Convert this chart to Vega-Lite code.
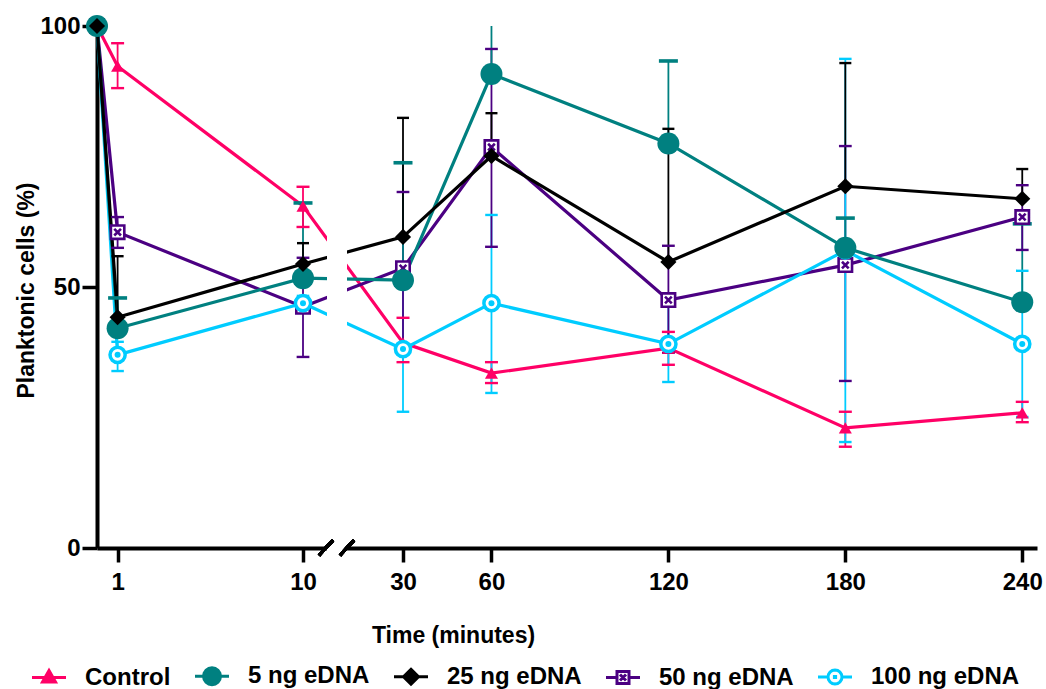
{
  "$schema": "https://vega.github.io/schema/vega-lite/v6.json",
  "width": 940,
  "height": 522,
  "autosize": {"type": "none"},
  "padding": {"left": 97, "top": 26, "right": 9, "bottom": 141},
  "background": "white",
  "config": {
    "view": {"stroke": null},
    "font": "Liberation Sans",
    "axis": {"grid": false, "domainColor": "black", "domainWidth": 4, "tickColor": "black", "tickWidth": 3.5,
      "labelFont": "Liberation Sans", "labelFontWeight": "bold", "labelFontSize": 24, "labelColor": "black",
      "titleFont": "Liberation Sans", "titleFontWeight": "bold", "titleFontSize": 23, "titleColor": "black"},
    "axisX": {"tickSize": 14, "labelPadding": 8, "titleX": 356, "titleY": 76, "titleBaseline": "top", "titleAlign": "center"},
    "axisY": {"tickSize": 15, "labelPadding": 2, "titleX": -59, "titleY": 264, "titleAngle": 270, "titleBaseline": "bottom", "titleAlign": "center"},
    "legend": {"orient": "none", "legendX": -60, "legendY": 638, "direction": "horizontal", "columns": 5,
      "symbolSize": 400, "symbolStrokeWidth": 3, "labelOffset": 24, "columnPadding": 18, "padding": 0,
      "labelFont": "Liberation Sans", "labelFontWeight": "bold", "labelFontSize": 24, "labelColor": "black", "labelLimit": 300}
  },
  "datasets": {
    "d": [
      {"series": "Control", "t": 0, "v": 100, "lo": null, "hi": null},
      {"series": "Control", "t": 1, "v": 92.3, "lo": 88.1, "hi": 96.7},
      {"series": "Control", "t": 10, "v": 65.5, "lo": 61.5, "hi": 69.2},
      {"series": "Control", "t": 30, "v": 39.3, "lo": 35.6, "hi": 44.1},
      {"series": "Control", "t": 60, "v": 33.5, "lo": 31.6, "hi": 35.6},
      {"series": "Control", "t": 120, "v": 38.3, "lo": 35.1, "hi": 41.4},
      {"series": "Control", "t": 180, "v": 23.0, "lo": 19.4, "hi": 26.1},
      {"series": "Control", "t": 240, "v": 25.9, "lo": 24.1, "hi": 28.0},
      {"series": "50 ng eDNA", "t": 0, "v": 100, "lo": null, "hi": null},
      {"series": "50 ng eDNA", "t": 1, "v": 60.5, "lo": 57.5, "hi": 63.4},
      {"series": "50 ng eDNA", "t": 10, "v": 46.2, "lo": 36.6, "hi": 55.6},
      {"series": "50 ng eDNA", "t": 30, "v": 53.6, "lo": 39.0, "hi": 68.2},
      {"series": "50 ng eDNA", "t": 60, "v": 76.8, "lo": 57.7, "hi": 95.6},
      {"series": "50 ng eDNA", "t": 120, "v": 47.5, "lo": 37.4, "hi": 57.9},
      {"series": "50 ng eDNA", "t": 180, "v": 54.2, "lo": 32.0, "hi": 77.0},
      {"series": "50 ng eDNA", "t": 240, "v": 63.4, "lo": 57.1, "hi": 69.5},
      {"series": "100 ng eDNA", "t": 0, "v": 100, "lo": null, "hi": null},
      {"series": "100 ng eDNA", "t": 1, "v": 37.0, "lo": 33.9, "hi": 39.5},
      {"series": "100 ng eDNA", "t": 10, "v": 46.9, "lo": 45.5, "hi": 48.3},
      {"series": "100 ng eDNA", "t": 30, "v": 38.1, "lo": 26.1, "hi": 50.1},
      {"series": "100 ng eDNA", "t": 60, "v": 46.9, "lo": 29.7, "hi": 63.8},
      {"series": "100 ng eDNA", "t": 120, "v": 39.1, "lo": 31.8, "hi": 46.4},
      {"series": "100 ng eDNA", "t": 180, "v": 57.0, "lo": 20.3, "hi": 93.7},
      {"series": "100 ng eDNA", "t": 240, "v": 39.1, "lo": 25.1, "hi": 53.1},
      {"series": "5 ng eDNA", "t": 0, "v": 100, "lo": null, "hi": null},
      {"series": "5 ng eDNA", "t": 1, "v": 42.1, "lo": null, "hi": 47.9},
      {"series": "5 ng eDNA", "t": 10, "v": 51.7, "lo": null, "hi": 66.1},
      {"series": "5 ng eDNA", "t": 30, "v": 51.3, "lo": null, "hi": 73.8},
      {"series": "5 ng eDNA", "t": 60, "v": 90.8, "lo": null, "hi": 100},
      {"series": "5 ng eDNA", "t": 120, "v": 77.5, "lo": null, "hi": 93.3},
      {"series": "5 ng eDNA", "t": 180, "v": 57.5, "lo": null, "hi": 63.2},
      {"series": "5 ng eDNA", "t": 240, "v": 47.1, "lo": null, "hi": 62.1},
      {"series": "25 ng eDNA", "t": 0, "v": 100, "lo": null, "hi": null},
      {"series": "25 ng eDNA", "t": 1, "v": 44.2, "lo": null, "hi": 55.9},
      {"series": "25 ng eDNA", "t": 10, "v": 54.4, "lo": null, "hi": 58.4},
      {"series": "25 ng eDNA", "t": 30, "v": 59.6, "lo": null, "hi": 82.4},
      {"series": "25 ng eDNA", "t": 60, "v": 75.1, "lo": null, "hi": 83.3},
      {"series": "25 ng eDNA", "t": 120, "v": 54.8, "lo": null, "hi": 80.3},
      {"series": "25 ng eDNA", "t": 180, "v": 69.3, "lo": null, "hi": 92.9},
      {"series": "25 ng eDNA", "t": 240, "v": 66.9, "lo": null, "hi": 72.6}
    ]
  },
  "data": {"name": "d"},
  "layer": [
    {
      "mark": {"type": "line", "strokeWidth": 3.2},
      "encoding": {
        "x": {"field": "t", "type": "quantitative", "title": "Time (minutes)",
          "scale": {"type": "linear", "domain": [0, 10, 30, 245], "range": [0, 206, 306, 940], "nice": false, "zero": false},
          "axis": {"values": [1, 10, 30, 60, 120, 180, 240]}},
        "y": {"field": "v", "type": "quantitative", "title": "Planktonic cells (%)",
          "scale": {"domain": [0, 100], "nice": false, "zero": true},
          "axis": {"values": [0, 50, 100]}},
        "color": {"field": "series", "type": "nominal",
          "scale": {"domain": ["Control", "50 ng eDNA", "100 ng eDNA", "5 ng eDNA", "25 ng eDNA"], "range": ["#FF0066", "#4B0082", "#00CCFF", "#008080", "#000000"]},
          "legend": null},
        "detail": {"field": "series"}
      }
    },
    {
      "transform": [{"filter": "isValid(datum.hi)"}],
      "mark": {"type": "rule"},
      "encoding": {
        "x": {"field": "t", "type": "quantitative", "title": "Time (minutes)", "scale": {"type": "linear", "domain": [0, 10, 30, 245], "range": [0, 206, 306, 940], "nice": false, "zero": false}, "axis": {"values": [1, 10, 30, 60, 120, 180, 240]}},
        "y": {"field": "v", "type": "quantitative", "title": "Planktonic cells (%)", "scale": {"domain": [0, 100], "nice": false, "zero": true}, "axis": {"values": [0, 50, 100]}},
        "y2": {"field": "hi"},
        "color": {"field": "series", "type": "nominal",
          "scale": {"domain": ["Control", "50 ng eDNA", "100 ng eDNA", "5 ng eDNA", "25 ng eDNA"], "range": ["#FF0066", "#4B0082", "#00CCFF", "#008080", "#000000"]},
          "legend": null},
        "strokeWidth": {"field": "series", "type": "nominal",
          "scale": {"domain": ["Control", "50 ng eDNA", "100 ng eDNA", "5 ng eDNA", "25 ng eDNA"], "range": [1.8, 1.8, 2, 3.5, 1.8]},
          "legend": null}
      }
    },
    {
      "transform": [{"filter": "isValid(datum.lo)"}],
      "mark": {"type": "rule"},
      "encoding": {
        "x": {"field": "t", "type": "quantitative", "title": "Time (minutes)", "scale": {"type": "linear", "domain": [0, 10, 30, 245], "range": [0, 206, 306, 940], "nice": false, "zero": false}, "axis": {"values": [1, 10, 30, 60, 120, 180, 240]}},
        "y": {"field": "lo", "type": "quantitative", "title": "Planktonic cells (%)", "scale": {"domain": [0, 100], "nice": false, "zero": true}, "axis": {"values": [0, 50, 100]}},
        "y2": {"field": "v"},
        "color": {"field": "series", "type": "nominal",
          "scale": {"domain": ["Control", "50 ng eDNA", "100 ng eDNA", "5 ng eDNA", "25 ng eDNA"], "range": ["#FF0066", "#4B0082", "#00CCFF", "#008080", "#000000"]},
          "legend": null},
        "strokeWidth": {"field": "series", "type": "nominal",
          "scale": {"domain": ["Control", "50 ng eDNA", "100 ng eDNA", "5 ng eDNA", "25 ng eDNA"], "range": [1.8, 1.8, 2, 3.5, 1.8]},
          "legend": null}
      }
    },
    {
      "transform": [{"filter": "isValid(datum.hi) && datum.hi < 100 && datum.series !== '5 ng eDNA'"}],
      "mark": {"type": "tick", "orient": "horizontal", "thickness": 2.4, "opacity": 1},
      "encoding": {
        "x": {"field": "t", "type": "quantitative", "title": "Time (minutes)", "scale": {"type": "linear", "domain": [0, 10, 30, 245], "range": [0, 206, 306, 940], "nice": false, "zero": false}, "axis": {"values": [1, 10, 30, 60, 120, 180, 240]}},
        "y": {"field": "hi", "type": "quantitative", "title": "Planktonic cells (%)", "scale": {"domain": [0, 100], "nice": false, "zero": true}, "axis": {"values": [0, 50, 100]}},
        "color": {"field": "series", "type": "nominal",
          "scale": {"domain": ["Control", "50 ng eDNA", "100 ng eDNA", "5 ng eDNA", "25 ng eDNA"], "range": ["#FF0066", "#4B0082", "#00CCFF", "#008080", "#000000"]},
          "legend": null},
        "size": {"field": "series", "type": "nominal",
          "scale": {"domain": ["Control", "50 ng eDNA", "100 ng eDNA", "5 ng eDNA", "25 ng eDNA"], "range": [13, 12, 14, 19, 16]},
          "legend": null}
      }
    },
    {
      "transform": [{"filter": "isValid(datum.hi) && datum.hi < 100 && datum.series === '5 ng eDNA'"}],
      "mark": {"type": "tick", "orient": "horizontal", "thickness": 3.6, "size": 19, "color": "#008080", "opacity": 1},
      "encoding": {
        "x": {"field": "t", "type": "quantitative", "title": "Time (minutes)", "scale": {"type": "linear", "domain": [0, 10, 30, 245], "range": [0, 206, 306, 940], "nice": false, "zero": false}, "axis": {"values": [1, 10, 30, 60, 120, 180, 240]}},
        "y": {"field": "hi", "type": "quantitative", "title": "Planktonic cells (%)", "scale": {"domain": [0, 100], "nice": false, "zero": true}, "axis": {"values": [0, 50, 100]}}
      }
    },
    {
      "transform": [{"filter": "isValid(datum.lo)"}],
      "mark": {"type": "tick", "orient": "horizontal", "thickness": 2.4, "opacity": 1},
      "encoding": {
        "x": {"field": "t", "type": "quantitative", "title": "Time (minutes)", "scale": {"type": "linear", "domain": [0, 10, 30, 245], "range": [0, 206, 306, 940], "nice": false, "zero": false}, "axis": {"values": [1, 10, 30, 60, 120, 180, 240]}},
        "y": {"field": "lo", "type": "quantitative", "title": "Planktonic cells (%)", "scale": {"domain": [0, 100], "nice": false, "zero": true}, "axis": {"values": [0, 50, 100]}},
        "color": {"field": "series", "type": "nominal",
          "scale": {"domain": ["Control", "50 ng eDNA", "100 ng eDNA", "5 ng eDNA", "25 ng eDNA"], "range": ["#FF0066", "#4B0082", "#00CCFF", "#008080", "#000000"]},
          "legend": null},
        "size": {"field": "series", "type": "nominal",
          "scale": {"domain": ["Control", "50 ng eDNA", "100 ng eDNA", "5 ng eDNA", "25 ng eDNA"], "range": [13, 12, 14, 19, 16]},
          "legend": null}
      }
    },
    {
      "mark": {"type": "rect", "fill": "white", "opacity": 1},
      "encoding": {
        "x": {"datum": 14.8, "type": "quantitative", "title": "Time (minutes)", "scale": {"type": "linear", "domain": [0, 10, 30, 245], "range": [0, 206, 306, 940], "nice": false, "zero": false}, "axis": {"values": [1, 10, 30, 60, 120, 180, 240]}},
        "x2": {"datum": 18.8},
        "y": {"datum": -1, "type": "quantitative", "title": "Planktonic cells (%)", "scale": {"domain": [0, 100], "nice": false, "zero": true}, "axis": {"values": [0, 50, 100]}},
        "y2": {"datum": 100}
      }
    },
    {
      "transform": [{"filter": "datum.series === 'Control'"}],
      "mark": {"type": "point", "shape": "triangle-up", "size": 170, "filled": true, "fill": "#FF0066", "opacity": 1},
      "encoding": {
        "x": {"field": "t", "type": "quantitative", "title": "Time (minutes)", "scale": {"type": "linear", "domain": [0, 10, 30, 245], "range": [0, 206, 306, 940], "nice": false, "zero": false}, "axis": {"values": [1, 10, 30, 60, 120, 180, 240]}},
        "y": {"field": "v", "type": "quantitative", "title": "Planktonic cells (%)", "scale": {"domain": [0, 100], "nice": false, "zero": true}, "axis": {"values": [0, 50, 100]}}
      }
    },
    {
      "transform": [{"filter": "datum.series === '50 ng eDNA'"}],
      "mark": {"type": "point", "shape": "M-1,-1H1V1H-1Z M-0.5,-0.5L0.5,0.5 M0.5,-0.5L-0.5,0.5", "size": 180, "filled": true, "fill": "white", "stroke": "#4B0082", "strokeWidth": 2.6, "opacity": 1},
      "encoding": {
        "x": {"field": "t", "type": "quantitative", "title": "Time (minutes)", "scale": {"type": "linear", "domain": [0, 10, 30, 245], "range": [0, 206, 306, 940], "nice": false, "zero": false}, "axis": {"values": [1, 10, 30, 60, 120, 180, 240]}},
        "y": {"field": "v", "type": "quantitative", "title": "Planktonic cells (%)", "scale": {"domain": [0, 100], "nice": false, "zero": true}, "axis": {"values": [0, 50, 100]}}
      }
    },
    {
      "transform": [{"filter": "datum.series === '100 ng eDNA'"}],
      "mark": {"type": "point", "shape": "circle", "size": 230, "filled": true, "fill": "white", "stroke": "#00CCFF", "strokeWidth": 3.5, "opacity": 1},
      "encoding": {
        "x": {"field": "t", "type": "quantitative", "title": "Time (minutes)", "scale": {"type": "linear", "domain": [0, 10, 30, 245], "range": [0, 206, 306, 940], "nice": false, "zero": false}, "axis": {"values": [1, 10, 30, 60, 120, 180, 240]}},
        "y": {"field": "v", "type": "quantitative", "title": "Planktonic cells (%)", "scale": {"domain": [0, 100], "nice": false, "zero": true}, "axis": {"values": [0, 50, 100]}}
      }
    },
    {
      "transform": [{"filter": "datum.series === '100 ng eDNA'"}],
      "mark": {"type": "point", "shape": "circle", "size": 36, "filled": true, "fill": "#00CCFF", "opacity": 1},
      "encoding": {
        "x": {"field": "t", "type": "quantitative", "title": "Time (minutes)", "scale": {"type": "linear", "domain": [0, 10, 30, 245], "range": [0, 206, 306, 940], "nice": false, "zero": false}, "axis": {"values": [1, 10, 30, 60, 120, 180, 240]}},
        "y": {"field": "v", "type": "quantitative", "title": "Planktonic cells (%)", "scale": {"domain": [0, 100], "nice": false, "zero": true}, "axis": {"values": [0, 50, 100]}}
      }
    },
    {
      "transform": [{"filter": "datum.series === '5 ng eDNA'"}],
      "mark": {"type": "point", "shape": "circle", "size": 484, "filled": true, "fill": "#008080", "opacity": 1},
      "encoding": {
        "x": {"field": "t", "type": "quantitative", "title": "Time (minutes)", "scale": {"type": "linear", "domain": [0, 10, 30, 245], "range": [0, 206, 306, 940], "nice": false, "zero": false}, "axis": {"values": [1, 10, 30, 60, 120, 180, 240]}},
        "y": {"field": "v", "type": "quantitative", "title": "Planktonic cells (%)", "scale": {"domain": [0, 100], "nice": false, "zero": true}, "axis": {"values": [0, 50, 100]}}
      }
    },
    {
      "transform": [{"filter": "datum.series === '25 ng eDNA'"}],
      "mark": {"type": "point", "shape": "diamond", "size": 260, "filled": true, "fill": "#000000", "opacity": 1},
      "encoding": {
        "x": {"field": "t", "type": "quantitative", "title": "Time (minutes)", "scale": {"type": "linear", "domain": [0, 10, 30, 245], "range": [0, 206, 306, 940], "nice": false, "zero": false}, "axis": {"values": [1, 10, 30, 60, 120, 180, 240]}},
        "y": {"field": "v", "type": "quantitative", "title": "Planktonic cells (%)", "scale": {"domain": [0, 100], "nice": false, "zero": true}, "axis": {"values": [0, 50, 100]}}
      }
    },
    {
      "mark": {"type": "rule", "strokeWidth": 3, "color": "black"},
      "encoding": {
        "x": {"datum": 13.2, "type": "quantitative", "title": "Time (minutes)", "scale": {"type": "linear", "domain": [0, 10, 30, 245], "range": [0, 206, 306, 940], "nice": false, "zero": false}, "axis": {"values": [1, 10, 30, 60, 120, 180, 240]}},
        "x2": {"datum": 16.0},
        "y": {"datum": -1.4, "type": "quantitative", "title": "Planktonic cells (%)", "scale": {"domain": [0, 100], "nice": false, "zero": true}, "axis": {"values": [0, 50, 100]}},
        "y2": {"datum": 1.5}
      }
    },
    {
      "mark": {"type": "rule", "strokeWidth": 3, "color": "black"},
      "encoding": {
        "x": {"datum": 17.4, "type": "quantitative", "title": "Time (minutes)", "scale": {"type": "linear", "domain": [0, 10, 30, 245], "range": [0, 206, 306, 940], "nice": false, "zero": false}, "axis": {"values": [1, 10, 30, 60, 120, 180, 240]}},
        "x2": {"datum": 20.2},
        "y": {"datum": -1.4, "type": "quantitative", "title": "Planktonic cells (%)", "scale": {"domain": [0, 100], "nice": false, "zero": true}, "axis": {"values": [0, 50, 100]}},
        "y2": {"datum": 1.5}
      }
    },
    {
      "transform": [{"filter": "datum.t < 0"}],
      "mark": {"type": "point", "filled": true, "opacity": 1, "strokeWidth": 3},
      "encoding": {
        "x": {"field": "t", "type": "quantitative", "title": "Time (minutes)", "scale": {"type": "linear", "domain": [0, 10, 30, 245], "range": [0, 206, 306, 940], "nice": false, "zero": false}, "axis": {"values": [1, 10, 30, 60, 120, 180, 240]}},
        "y": {"field": "v", "type": "quantitative", "title": "Planktonic cells (%)", "scale": {"domain": [0, 100], "nice": false, "zero": true}, "axis": {"values": [0, 50, 100]}},
        "shape": {"field": "series", "type": "nominal", "title": null,
          "scale": {"domain": ["Control", "5 ng eDNA", "25 ng eDNA", "50 ng eDNA", "100 ng eDNA"],
            "range": [
              "M-1.7,0H1.7M0,-0.7L0.65,0.45L-0.65,0.45Z",
              "M-1.7,0H1.7M0.85,0L0.785,0.325L0.601,0.601L0.325,0.785L0,0.85L-0.325,0.785L-0.601,0.601L-0.785,0.325L-0.85,0L-0.785,-0.325L-0.601,-0.601L-0.325,-0.785L0,-0.85L0.325,-0.785L0.601,-0.601L0.785,-0.325Z",
              "M-1.7,0H1.7M0,-0.75L0.75,0L0,0.75L-0.75,0Z",
              "M-1.7,0H-0.6M0.6,0H1.7M-0.6,-0.6H0.6V0.6H-0.6Z M-0.3,-0.3L0.3,0.3M0.3,-0.3L-0.3,0.3",
              "M-1.7,0H-0.7M0.7,0H1.7M0.7,0L0.647,0.268L0.495,0.495L0.268,0.647L0,0.7L-0.268,0.647L-0.495,0.495L-0.647,0.268L-0.7,0L-0.647,-0.268L-0.495,-0.495L-0.268,-0.647L0,-0.7L0.268,-0.647L0.495,-0.495L0.647,-0.268Z M-0.06,-0.06H0.06V0.06H-0.06Z"
            ]}},
        "stroke": {"field": "series", "type": "nominal", "title": null,
          "scale": {"domain": ["Control", "5 ng eDNA", "25 ng eDNA", "50 ng eDNA", "100 ng eDNA"], "range": ["#FF0066", "#008080", "#000000", "#4B0082", "#00CCFF"]}},
        "fill": {"field": "series", "type": "nominal", "title": null,
          "scale": {"domain": ["Control", "5 ng eDNA", "25 ng eDNA", "50 ng eDNA", "100 ng eDNA"], "range": ["#FF0066", "#008080", "#000000", "#FFFFFF", "#FFFFFF"]}}
      }
    }
  ]
}
